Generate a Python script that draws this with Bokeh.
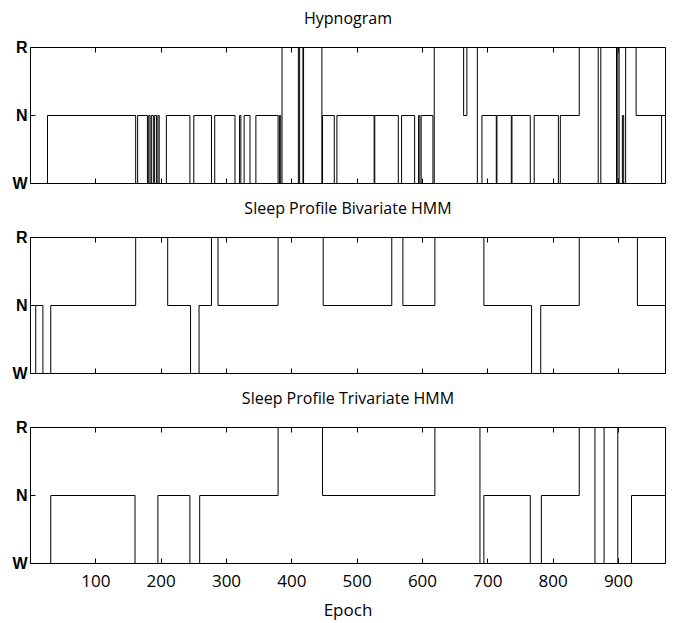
from bokeh.plotting import figure
from bokeh.models import Range1d, FixedTicker, LinearAxis, Grid
from bokeh.layouts import column
from bokeh.embed import file_html
from bokeh.resources import INLINE

# ---- data ----
n_epochs = 972
epoch_ticks = [100, 200, 300, 400, 500, 600, 700, 800, 900]
stage_ticks = [0, 1, 2]
stage_labels = ["W", "N", "R"]

panel_titles = ["Hypnogram", "Sleep Profile Bivariate HMM", "Sleep Profile Trivariate HMM"]

# stage codes: 0 = W, 1 = N, 2 = R ; each value holds from its start epoch to the next one
hyp_start = [0, 26, 161, 164, 179, 181, 183, 185, 188, 190, 193, 195, 197, 208, 244, 250,
             277, 282, 313, 320, 322, 327, 336, 345, 379, 381, 383, 385, 410, 412, 417,
             418, 446, 447, 465, 469, 526, 527, 563, 568, 588, 594, 596, 598, 616, 618,
             663, 668, 684, 691, 713, 714, 736, 737, 765, 771, 808, 811, 840, 869, 873,
             897, 899, 901, 906, 908, 911, 927, 966]
hyp_stage = [0, 1, 0, 1, 0, 1, 0, 1, 0, 1, 0, 1, 0, 1, 0, 1,
             0, 1, 0, 1, 0, 1, 0, 1, 0, 1, 0, 2, 0, 2, 0,
             2, 0, 1, 0, 1, 0, 1, 0, 1, 0, 1, 0, 1, 0, 2,
             1, 2, 0, 1, 0, 1, 0, 1, 0, 1, 0, 1, 2, 0, 2,
             0, 2, 0, 1, 0, 2, 1, 0]

biv_start = [0, 8, 19, 31, 161, 210, 245, 258, 277, 287, 379, 448, 553, 570, 619,
             694, 767, 781, 840, 929]
biv_stage = [0, 1, 0, 1, 2, 1, 0, 1, 2, 1, 2, 1, 2, 1, 2,
             1, 0, 1, 2, 1]

tri_start = [0, 31, 160, 195, 244, 259, 379, 447, 619, 688, 694, 765, 782, 840, 864,
             878, 899, 920]
tri_stage = [0, 1, 0, 1, 0, 1, 2, 1, 2, 0, 1, 0, 1, 2, 0,
             2, 0, 1]

TITLE_FONT = "Open Sans"
TICK_FONT = "Open Sans"
STAGE_FONT = "Liberation Sans"


def make_panel(title, starts, stages, show_x, top_border, bottom_border):
    xs = list(starts) + [n_epochs]
    ys = list(stages) + [stages[-1]]
    p = figure(frame_width=635, frame_height=136,
               x_range=Range1d(0, n_epochs), y_range=Range1d(0, 2),
               output_backend="svg", toolbar_location=None, title=None,
               min_border_left=30, min_border_right=5, min_border_top=top_border,
               min_border_bottom=bottom_border,
               x_axis_location=None, y_axis_location=None)
    p.background_fill_color = "white"
    p.border_fill_color = "white"
    p.outline_line_color = "black"
    p.outline_line_width = 1
    p.outline_line_alpha = 1.0
    for r in list(p.center):
        if isinstance(r, Grid):
            r.visible = False

    def xaxis(labels):
        ax = LinearAxis(ticker=FixedTicker(ticks=epoch_ticks),
                        major_tick_in=5, major_tick_out=0,
                        minor_tick_in=0, minor_tick_out=0,
                        axis_line_color=None, major_tick_line_color="black")
        if labels:
            ax.major_label_text_font = TICK_FONT
            ax.major_label_text_font_size = "17px"
            ax.major_label_text_color = "black"
            ax.major_label_standoff = 11
        else:
            ax.major_label_overrides = {t: "" for t in epoch_ticks}
            ax.major_label_text_font_size = "1px"
            ax.major_label_standoff = 0
        return ax

    def yaxis(labels):
        ax = LinearAxis(ticker=FixedTicker(ticks=stage_ticks),
                        major_tick_in=5, major_tick_out=0,
                        minor_tick_in=0, minor_tick_out=0,
                        axis_line_color=None, major_tick_line_color="black")
        if labels:
            ax.major_label_overrides = {t: s for t, s in zip(stage_ticks, stage_labels)}
            ax.major_label_text_font = STAGE_FONT
            ax.major_label_text_font_style = "bold"
            ax.major_label_text_font_size = "16px"
            ax.major_label_text_color = "black"
            ax.major_label_standoff = 3
        else:
            ax.major_label_overrides = {t: "" for t in stage_ticks}
            ax.major_label_text_font_size = "1px"
            ax.major_label_standoff = 0
        return ax

    bottom = xaxis(show_x)
    if show_x:
        bottom.axis_label = "Epoch"
        bottom.axis_label_text_font = TICK_FONT
        bottom.axis_label_text_font_size = "17px"
        bottom.axis_label_text_font_style = "normal"
        bottom.axis_label_text_color = "black"
        bottom.axis_label_standoff = 8
    p.add_layout(bottom, "below")

    top = xaxis(False)
    top.axis_label = title
    top.axis_label_text_font = TITLE_FONT
    top.axis_label_text_font_size = "16px"
    top.axis_label_text_font_style = "normal"
    top.axis_label_text_color = "black"
    top.axis_label_standoff = 19
    p.add_layout(top, "above")

    p.add_layout(yaxis(True), "left")
    p.add_layout(yaxis(False), "right")

    p.step(x=xs, y=ys, mode="after", line_color="black", line_width=1)
    return p


p1 = make_panel(panel_titles[0], hyp_start, hyp_stage, False, 47, 10)
p2 = make_panel(panel_titles[1], biv_start, biv_stage, False, 40, 10)
p3 = make_panel(panel_titles[2], tri_start, tri_stage, True, 40, 50)

layout = column(p1, p2, p3, spacing=0)

open("out.html", "w").write(file_html(layout, INLINE))
